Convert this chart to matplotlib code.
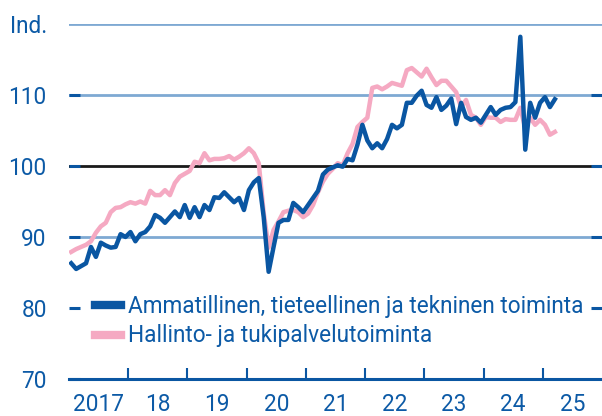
import matplotlib
matplotlib.use('Agg')
import matplotlib.pyplot as plt
import numpy as np

# monthly index values, Jan 2017 - Mar 2025
ammatillinen = [
    86.3, 85.5, 85.9, 86.3, 88.6, 87.2, 89.2, 88.8, 88.5, 88.6, 90.4, 90.0,
    90.7, 89.4, 90.4, 90.7, 91.5, 93.1, 92.7, 92.0, 92.8, 93.6, 92.8, 94.5,
    92.7, 94.2, 92.8, 94.5, 93.8, 95.6, 95.5, 96.3, 95.6, 94.9, 95.5, 93.8,
    96.6, 97.7, 98.3, 92.8, 85.1, 88.6, 92.0, 92.4, 92.4, 94.8, 94.2, 93.5,
    94.5, 95.5, 96.5, 98.8, 99.5, 99.8, 100.1, 99.9, 101.0, 100.8, 103.0, 105.8,
    103.6, 102.5, 103.2, 102.5, 103.8, 105.8, 105.3, 105.8, 108.9, 108.9, 109.9, 110.6,
    108.6, 108.2, 109.7, 107.9, 108.5, 109.5, 105.9, 108.9, 106.9, 106.5, 106.8, 106.1,
    107.2, 108.3, 107.2, 107.9, 108.2, 108.3, 109.0, 118.2, 102.3, 108.9, 106.8, 108.9,
    109.7, 108.3, 109.4,
]
hallinto = [
    87.9, 88.3, 88.6, 88.9, 89.4, 90.6, 91.5, 92.0, 93.5, 94.1, 94.2, 94.6,
    94.9, 94.7, 95.0, 94.7, 96.5, 95.9, 95.9, 96.6, 95.9, 97.6, 98.5, 98.9,
    99.3, 100.6, 100.4, 101.8, 100.8, 101.0, 101.0, 101.1, 101.4, 100.9, 101.3, 101.8,
    102.5, 101.8, 100.4, 93.4, 88.5, 91.0, 92.2, 93.5, 93.7, 93.8, 93.5, 92.8,
    93.3, 94.5, 96.3, 97.8, 98.9, 99.6, 100.4, 100.1, 101.8, 103.1, 105.5, 106.2,
    106.8, 111.0, 111.2, 110.8, 111.2, 111.7, 111.5, 111.3, 113.5, 113.8, 113.2, 112.6,
    113.7, 112.5, 111.4, 112.0, 112.0, 111.2, 110.4, 108.3, 109.3, 107.2, 106.8, 105.8,
    106.9, 106.8, 106.8, 106.2, 106.6, 106.5, 106.5, 108.2, 105.3, 106.8, 105.8, 106.5,
    105.8, 104.4, 104.8,
]
years = [2017, 2018, 2019, 2020, 2021, 2022, 2023, 2024, 2025]
year_labels = ['2017', '18', '19', '20', '21', '22', '23', '24', '25']
y_ticks = [70, 80, 90, 100, 110, 120]
y_labels = ['70', '80', '90', '100', '110', 'Ind.']

dark = '#0a56a2'
pink = '#f5a9c2'
grid = '#7ea9d3'
txt = '#0c5aa6'
fs = 16.3

plt.rcParams['font.family'] = ['Roboto', 'DejaVu Sans']

fig = plt.figure(figsize=(6.02, 4.16), dpi=100)
ax = fig.add_axes([69 / 602, 1 - 379 / 416, 533 / 602, 355 / 416])

months = np.arange(len(ammatillinen))
x = 2017 + (months + 0.45) / 12

for v in [90, 110, 120]:
    ax.axhline(v, color=grid, lw=2, zorder=1)
ax.axhline(100, color='#1a1a1a', lw=2, zorder=1)

ax.plot(x, ammatillinen, color=dark, lw=3.2, zorder=4,
        label='Ammatillinen, tieteellinen ja tekninen toiminta')
ax.plot(x, hallinto, color=pink, lw=3.2, zorder=3,
        label='Hallinto- ja tukipalvelutoiminta')

ax.set_xlim(2017, 2026)
ax.set_ylim(70, 120)

for s in ['top', 'right', 'left']:
    ax.spines[s].set_visible(False)
ax.spines['bottom'].set_color(dark)
ax.spines['bottom'].set_linewidth(2.2)
ax.spines['bottom'].set_zorder(5)

ax.set_xticks(years[1:])
ax.set_xticklabels([])
ax.set_xticks([y + 0.5 for y in years], minor=True)
ax.set_xticklabels(year_labels, minor=True)
ax.tick_params(axis='x', which='major', direction='in', length=8, width=1.5, color=dark)
ax.tick_params(axis='x', which='minor', length=0, pad=10, labelsize=fs, labelcolor=txt)

ax.set_yticks(y_ticks)
ax.set_yticklabels(y_labels)
ax.tick_params(axis='y', direction='in', length=8, width=2.2, color=dark,
               right=True, pad=16, labelsize=fs, labelcolor=txt)
ax.yaxis.get_major_ticks()[-1].tick1line.set_visible(False)
ax.yaxis.get_major_ticks()[-1].tick2line.set_visible(False)
ax.yaxis.get_major_ticks()[0].tick2line.set_visible(False)

leg = ax.legend(loc='lower left', bbox_to_anchor=(0.04, 0.076), frameon=False,
                fontsize=fs, handlelength=1.15, handletextpad=0.32, labelspacing=0.3,
                borderpad=0.2, borderaxespad=0)
leg.set_zorder(6)
for t in leg.get_texts():
    t.set_color(txt)
for h in leg.get_lines():
    h.set_linewidth(6)

plt.savefig('out.png', dpi=100)
